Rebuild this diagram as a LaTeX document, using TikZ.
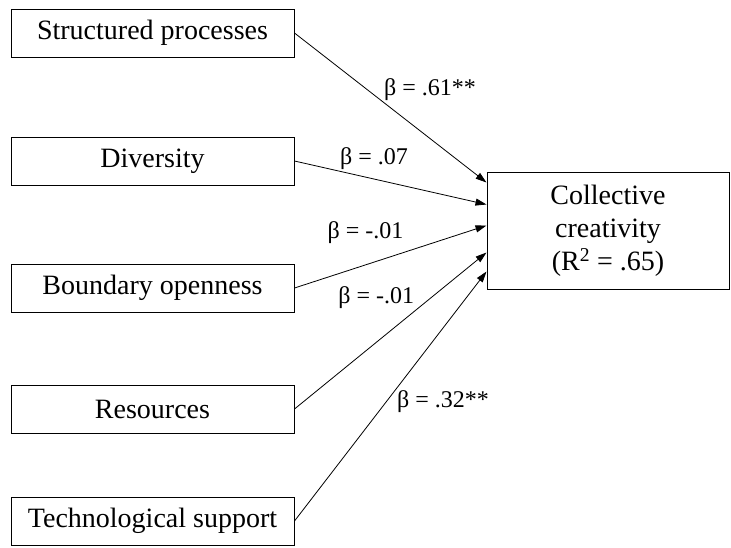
\documentclass[tikz,border=0pt]{standalone}
\usepackage{fontspec}
\setmainfont{Liberation Serif}
\usepackage{tikz}
\usetikzlibrary{positioning,arrows.meta}

\begin{document}
\begin{tikzpicture}[x=1pt,y=1pt,
  varbox/.style={draw,line width=1pt,minimum width=283pt,minimum height=48pt,inner sep=0pt,font=\fontsize{28}{33}\selectfont},
  outcome/.style={draw,line width=1pt,minimum width=242pt,minimum height=117pt,inner sep=0pt,align=center,font=\fontsize{28}{33}\selectfont},
  coef/.style={font=\fontsize{24}{28}\selectfont,inner sep=1pt},
  effect/.style={-{Triangle[length=11pt,width=7pt]},line width=0.8pt}]
\useasboundingbox (0,0) rectangle (731,-547);
\node[varbox] (struct) at (152.5,-33) {Structured processes};
\node[varbox,below=79pt of struct] (div) {Diversity};
\node[varbox,below=78pt of div] (bound) {Boundary openness};
\node[varbox,below=72pt of bound] (res) {Resources};
\node[varbox,below=63pt of res] (tech) {Technological support};
\node[outcome] (coll) at (608,-230.5) {Collective\\creativity\\(R\textsuperscript{2} = .65)};
\draw[effect] (struct.east) -- node[coef,pos=.46,anchor=south west] {β = .61**} ([yshift=-11pt]coll.north west);
\draw[effect] (div.east) -- node[coef,pos=.23,anchor=south west] {β = .07} ([yshift=-33pt]coll.north west);
\draw[effect] (bound.east) -- node[coef,pos=.37,above=20pt] {β = -.01} ([yshift=-54pt]coll.north west);
\draw[effect] (res.east) -- node[coef,pos=.63,anchor=south east] {β = -.01} ([yshift=-81pt]coll.north west);
\draw[effect] (tech.east) -- node[coef,pos=.48,right=9pt] {β = .32**} ([yshift=-100pt]coll.north west);
\end{tikzpicture}
\end{document}
